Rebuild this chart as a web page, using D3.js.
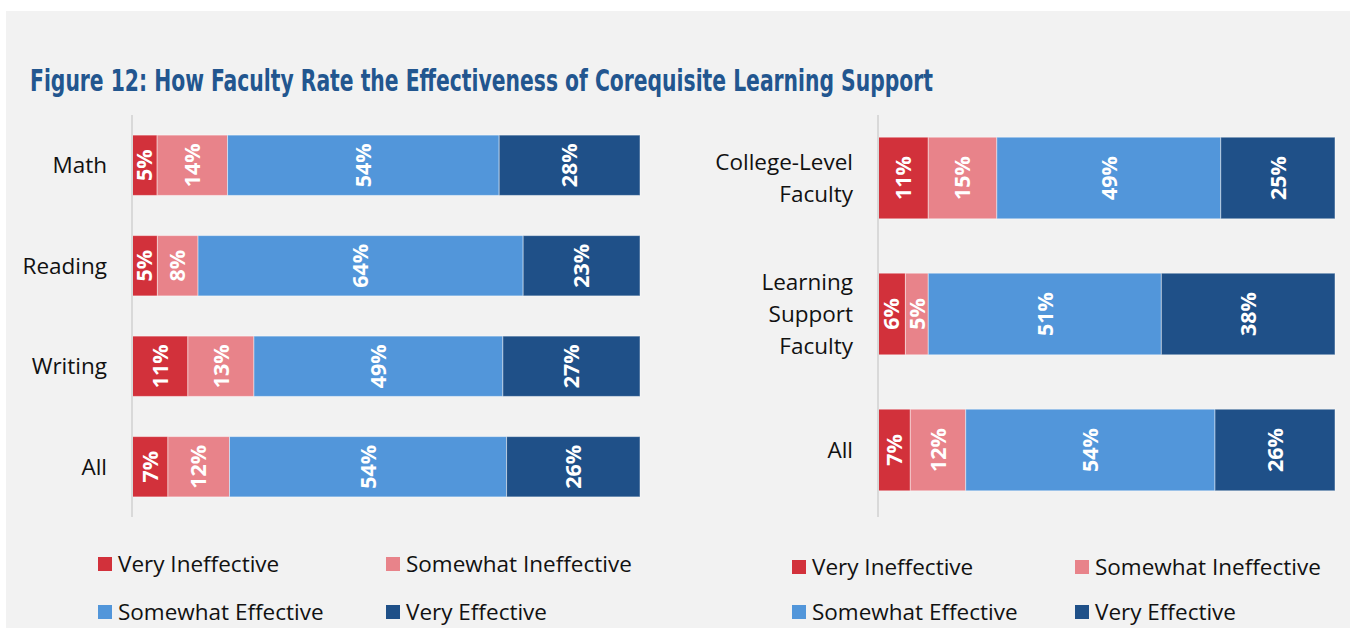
<!DOCTYPE html>
<html>
<head>
<meta charset="utf-8">
<script src="https://cdn.jsdelivr.net/npm/d3@7"></script>
<style>
  body { margin: 0; background: #ffffff; }
  svg { display: block; }
  .cat, .legend text { font-family: "Open Sans", "Noto Sans", sans-serif; fill: #111; }
  .val { font-family: "Open Sans", "Noto Sans", sans-serif; font-weight: 700; fill: #fff; }
</style>
</head>
<body>
<div id="chart"></div>
<script>
// series names + colours
const seriesNames = ['Very Ineffective', 'Somewhat Ineffective', 'Somewhat Effective', 'Very Effective'];
const seriesColors = ['#d2313b', '#e8838a', '#5296da', '#1f5088'];

// left panel: by subject
const leftCategories = ['Math', 'Reading', 'Writing', 'All'];
const leftVeryIneffective = [5, 5, 11, 7];
const leftSomewhatIneffective = [14, 8, 13, 12];
const leftSomewhatEffective = [54, 64, 49, 54];
const leftVeryEffective = [28, 23, 27, 26];

// right panel: by faculty type
const rightCategories = ['College-Level Faculty', 'Learning Support Faculty', 'All'];
const rightLabelLines = [['College-Level', 'Faculty'], ['Learning', 'Support', 'Faculty'], ['All']];
const rightVeryIneffective = [11, 6, 7];
const rightSomewhatIneffective = [15, 5, 12];
const rightSomewhatEffective = [49, 51, 54];
const rightVeryEffective = [25, 38, 26];

const W = 1350, H = 628;
const svg = d3.select('#chart').append('svg')
  .attr('width', W)
  .attr('height', H);

svg.append('rect')
  .attr('x', 6).attr('y', 11)
  .attr('width', W - 6).attr('height', H - 11)
  .attr('fill', '#f2f2f2');

svg.append('text')
  .attr('x', 30).attr('y', 91)
  .attr('textLength', 903)
  .attr('lengthAdjust', 'spacingAndGlyphs')
  .style('font-family', '"Liberation Sans Narrow", "DejaVu Sans Condensed", sans-serif')
  .style('font-weight', 700)
  .style('font-size', '30px')
  .style('fill', '#22568f')
  .text('Figure 12: How Faculty Rate the Effectiveness of Corequisite Learning Support');

function rowsOf(cats, a, b, c, d) {
  return cats.map((cat, i) => ({
    cat: cat,
    [seriesNames[0]]: a[i],
    [seriesNames[1]]: b[i],
    [seriesNames[2]]: c[i],
    [seriesNames[3]]: d[i]
  }));
}

function panel(opts) {
  const rows = rowsOf(opts.cats, ...opts.values);
  // 100% stacked, like the original chart
  const series = d3.stack().keys(seriesNames).offset(d3.stackOffsetExpand)(rows);

  const x = d3.scaleLinear().domain([0, 1]).range([opts.x0, opts.x1]);
  const y = d3.scaleBand().domain(opts.cats).range([opts.y0, opts.y1])
    .paddingInner(0.4).paddingOuter(0.2);

  const g = svg.append('g');

  g.selectAll('g.series')
    .data(series)
    .join('g')
    .attr('class', 'series')
    .attr('fill', (d, i) => seriesColors[i])
    .selectAll('rect')
    .data(d => d)
    .join('rect')
    .attr('x', d => x(d[0]))
    .attr('y', d => y(d.data.cat))
    .attr('width', d => x(d[1]) - x(d[0]))
    .attr('height', y.bandwidth())
    .attr('stroke', '#ffffff')
    .attr('stroke-opacity', 0.45)
    .attr('stroke-width', 1);

  // value labels, rotated
  series.forEach((s, si) => {
    g.selectAll(null)
      .data(s)
      .join('text')
      .attr('class', 'val')
      .attr('transform', d => {
        const cx = (x(d[0]) + x(d[1])) / 2;
        const cy = y(d.data.cat) + y.bandwidth() / 2;
        return `translate(${cx},${cy}) rotate(-90)`;
      })
      .attr('text-anchor', 'middle')
      .attr('dy', '0.36em')
      .style('font-size', '21.5px')
      .text(d => d.data[s.key] + '%');
  });

  // category axis line
  g.append('line')
    .attr('x1', opts.x0).attr('x2', opts.x0)
    .attr('y1', opts.axisTop).attr('y2', opts.axisBottom)
    .attr('stroke', '#d9d9d9')
    .attr('stroke-width', 2);

  // category labels
  const lh = 32;
  opts.cats.forEach((cat, i) => {
    const lines = opts.lines ? opts.lines[i] : [cat];
    const cy = y(cat) + y.bandwidth() / 2;
    const t = g.append('text')
      .attr('class', 'cat')
      .attr('text-anchor', 'end')
      .style('font-size', '22.5px');
    lines.forEach((ln, j) => {
      t.append('tspan')
        .attr('x', opts.x0 - 25)
        .attr('y', cy + (j - (lines.length - 1) / 2) * lh)
        .attr('dy', '0.35em')
        .text(ln);
    });
  });

  // legend 2x2
  const lg = g.append('g').attr('class', 'legend');
  seriesNames.forEach((name, i) => {
    const lx = opts.legendX[i % 2];
    const ly = opts.legendY[Math.floor(i / 2)];
    lg.append('rect')
      .attr('x', lx).attr('y', ly - 7)
      .attr('width', 14).attr('height', 14)
      .attr('fill', seriesColors[i]);
    lg.append('text')
      .attr('x', lx + 20).attr('y', ly)
      .attr('dy', '0.35em')
      .style('font-size', '22.5px')
      .text(name);
  });
}

panel({
  cats: leftCategories,
  values: [leftVeryIneffective, leftSomewhatIneffective, leftSomewhatEffective, leftVeryEffective],
  x0: 132, x1: 640, y0: 115, y1: 517,
  axisTop: 115, axisBottom: 517,
  legendX: [98, 386], legendY: [564, 612]
});

panel({
  cats: rightCategories,
  lines: rightLabelLines,
  values: [rightVeryIneffective, rightSomewhatIneffective, rightSomewhatEffective, rightVeryEffective],
  x0: 878, x1: 1335, y0: 110, y1: 518,
  axisTop: 115, axisBottom: 517,
  legendX: [792, 1075], legendY: [567, 612]
});
</script>
</body>
</html>
